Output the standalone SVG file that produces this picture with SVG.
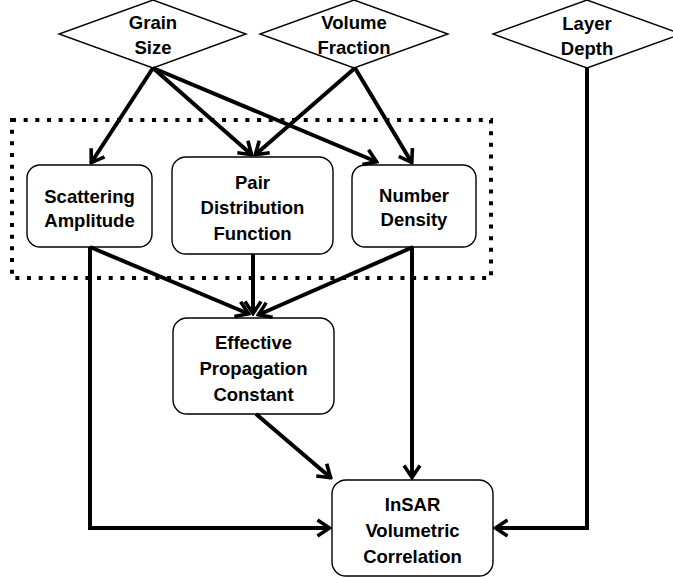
<svg xmlns="http://www.w3.org/2000/svg" width="673" height="579" viewBox="0 0 673 579">
<style>
.shape{fill:#fff;stroke:#000;stroke-width:1.4}
.t{font-family:"Liberation Sans",Arial,sans-serif;font-weight:bold;font-size:18.5px;text-anchor:middle;fill:#000}
.c{fill:none;stroke:#000;stroke-width:4;marker-end:url(#ah)}
</style>
<defs>
<marker id="ah" viewBox="0 0 16 20" refX="14" refY="10" markerWidth="16" markerHeight="20" markerUnits="userSpaceOnUse" orient="auto">
<path d="M1.5,2 L13.5,10 L1.5,18" fill="none" stroke="#000" stroke-width="3.6"/>
</marker>
</defs>
<rect x="12" y="120" width="479" height="158" fill="none" stroke="#000" stroke-width="4" stroke-dasharray="4 7.67"/>
<g id="grain">
<polygon class="shape" points="153,0 246,34 153,68 59,34"/>
<text class="t" x="153" y="29">Grain</text>
<text class="t" x="153" y="54">Size</text>
</g>
<g id="volume">
<polygon class="shape" points="354,0 448,34 354,68 260,34"/>
<text class="t" x="354" y="29">Volume</text>
<text class="t" x="354" y="54">Fraction</text>
</g>
<g id="layer">
<polygon class="shape" points="587,0 681,34 587,68 493,34"/>
<text class="t" x="587" y="30">Layer</text>
<text class="t" x="587" y="55">Depth</text>
</g>
<g id="scattering">
<rect class="shape" x="27" y="165" width="125" height="82" rx="13"/>
<text class="t" x="89.5" y="203">Scattering</text>
<text class="t" x="89.5" y="227">Amplitude</text>
</g>
<g id="pair">
<rect class="shape" x="172" y="157" width="161" height="97" rx="14"/>
<text class="t" x="252.5" y="189">Pair</text>
<text class="t" x="252.5" y="214">Distribution</text>
<text class="t" x="252.5" y="240">Function</text>
</g>
<g id="number">
<rect class="shape" x="352" y="165" width="124" height="82" rx="13"/>
<text class="t" x="414" y="202">Number</text>
<text class="t" x="414" y="226">Density</text>
</g>
<g id="effective">
<rect class="shape" x="173" y="318" width="161" height="96" rx="14"/>
<text class="t" x="253.5" y="349">Effective</text>
<text class="t" x="253.5" y="375">Propagation</text>
<text class="t" x="253.5" y="401">Constant</text>
</g>
<g id="insar">
<rect class="shape" x="332" y="480" width="161" height="96" rx="14"/>
<text class="t" x="412.5" y="511">InSAR</text>
<text class="t" x="412.5" y="537">Volumetric</text>
<text class="t" x="412.5" y="563">Correlation</text>
</g>
<g id="connectors">
<line class="c" x1="153" y1="68" x2="91" y2="163"/>
<line class="c" x1="153" y1="68" x2="252" y2="155"/>
<line class="c" x1="153" y1="68" x2="377" y2="162"/>
<line class="c" x1="355" y1="68" x2="255" y2="155"/>
<line class="c" x1="355" y1="68" x2="412" y2="163"/>
<line class="c" x1="90" y1="247" x2="249" y2="314"/>
<line class="c" x1="253" y1="254" x2="253" y2="314"/>
<line class="c" x1="413" y1="247" x2="258" y2="315"/>
<line class="c" x1="412" y1="247" x2="412" y2="478"/>
<line class="c" x1="256" y1="414" x2="331" y2="478"/>
<polyline class="c" points="90,247 90,528 330,528"/>
<polyline class="c" points="587,68 587,528 495,528"/>
</g>
</svg>
